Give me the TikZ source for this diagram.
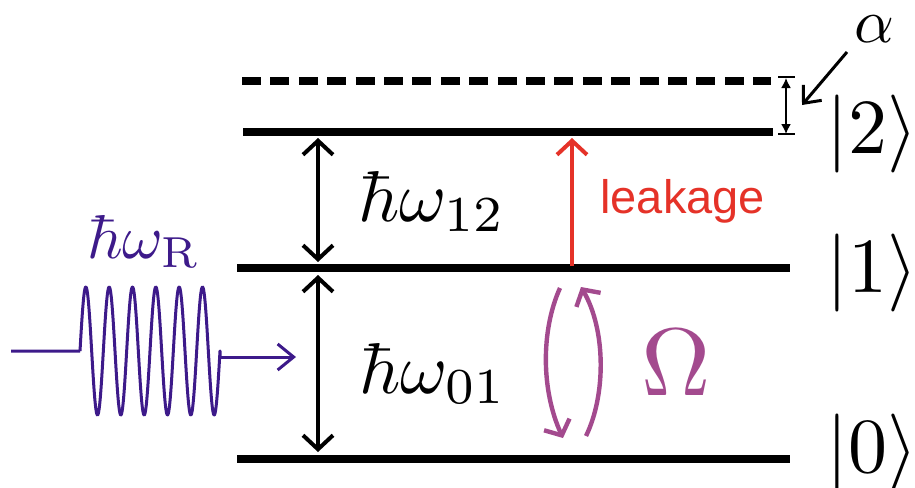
\documentclass[tikz,border=0pt]{standalone}
\usepackage{fontspec}
\newfontfamily\leakfont{Liberation Sans}
\usetikzlibrary{arrows.meta}
\definecolor{pulsecol}{HTML}{3D1A8A}
\definecolor{omegacol}{HTML}{A34A8E}
\definecolor{leakcol}{HTML}{E53228}
\tikzset{
  level/.style={line width=4pt, black},
  dashlevel/.style={line width=4pt, black, dash pattern=on 9.5pt off 4.7pt},
  gaparrow/.style={line width=2pt, black, {Straight Barb[length=7pt,width=15pt]}-{Straight Barb[length=7pt,width=15pt]}},
  leakarrow/.style={line width=2pt, leakcol, -{Straight Barb[length=7pt,width=15pt]}},
  omegaarrow/.style={line width=2.2pt, omegacol, -{Straight Barb[length=6pt,width=14pt]}},
  alphaarrow/.style={line width=1.5pt, black, -{Straight Barb[length=7pt,width=12pt]}},
  pulsearrow/.style={line width=1.5pt, pulsecol, -{Straight Barb[length=8pt,width=13pt]}},
  anharm/.style={line width=0.8pt, black, {Latex[length=5pt,width=5pt]}-{Latex[length=5pt,width=5pt]}},
  tick/.style={line width=0.8pt, black},
  lbl/.style={inner sep=0pt, anchor=base west},
}
\begin{document}
\begin{tikzpicture}[x=0.5pt,y=-0.5pt]
\useasboundingbox (0,0) rectangle (915,487);
% levels
\coordinate (d2a) at (242,81);  \coordinate (d2b) at (771,81);
\coordinate (l2a) at (243,132); \coordinate (l2b) at (773,132);
\coordinate (l1a) at (237,268); \coordinate (l1b) at (790,268);
\coordinate (l0a) at (237,459); \coordinate (l0b) at (790,459);
\draw[dashlevel] (d2a) -- (d2b);
\draw[level] (l2a) -- (l2b);
\draw[level] (l1a) -- (l1b);
\draw[level] (l0a) -- (l0b);
% kets
\node[lbl, scale=3.9] (k2) at (825,153) {$|2\rangle$};
\node[lbl, scale=3.9] (k1) at (825,292) {$|1\rangle$};
\node[lbl, scale=3.9] (k0) at (825,472) {$|0\rangle$};
% anharmonicity
\coordinate (at) at (786,78); \coordinate (ab) at (786,134);
\coordinate (t1a) at (778,77); \coordinate (t1b) at (795,77);
\coordinate (t2a) at (778,134); \coordinate (t2b) at (795,134);
\draw[tick] (t1a) -- (t1b);
\draw[tick] (t2a) -- (t2b);
\draw[anharm] (at) -- (ab);
\node[lbl, scale=3.1] (alpha) at (853,42) {$\alpha$};
\coordinate (alphas) at (847,52); \coordinate (alphae) at (802,105);
\draw[alphaarrow] (alphas) -- (alphae);
% energy gaps
\coordinate (g12t) at (318,138); \coordinate (g12b) at (318,262);
\coordinate (g01t) at (318,275); \coordinate (g01b) at (318,452);
\draw[gaparrow] (g12t) -- (g12b);
\draw[gaparrow] (g01t) -- (g01b);
\node[lbl, scale=3.6] (w12) at (357,221) {$\hbar\omega_{12}$};
\node[lbl, scale=3.6] (w01) at (358,393) {$\hbar\omega_{01}$};
% leakage
\coordinate (lks) at (572,266); \coordinate (lke) at (572,138);
\draw[leakarrow] (lks) -- (lke);
\node[lbl, text=leakcol] (leak) at (600,213) {\fontsize{23.5}{26}\leakfont leakage};
% Rabi
\coordinate (oa1) at (560,288); \coordinate (oa2) at (563,438);
\coordinate (ob1) at (586,436); \coordinate (ob2) at (581,287);
\draw[omegaarrow] (oa1) .. controls (541,330) and (541,390) .. (oa2);
\draw[omegaarrow] (ob1) .. controls (606,395) and (606,330) .. (ob2);
\node[lbl, text=omegacol, scale=4.8] (om) at (640,395) {$\Omega$};
% drive pulse
\node[lbl, text=pulsecol, scale=3.1] (wr) at (86,258) {$\hbar\omega_{\mathrm{R}}$};
\coordinate (p0) at (11,351); \coordinate (p1) at (80,351);
\coordinate (p3) at (220,357);
\coordinate (p4) at (296,357);
\draw[line width=1.5pt, pulsecol, line join=round] (p0) -- (p1)
  plot[domain=80:220, samples=400, smooth] (\x, {351 - 64*sin(15.4287*(\x-80))}) -- (p3);
\draw[pulsearrow] (p3) -- (p4);
\end{tikzpicture}
\end{document}
